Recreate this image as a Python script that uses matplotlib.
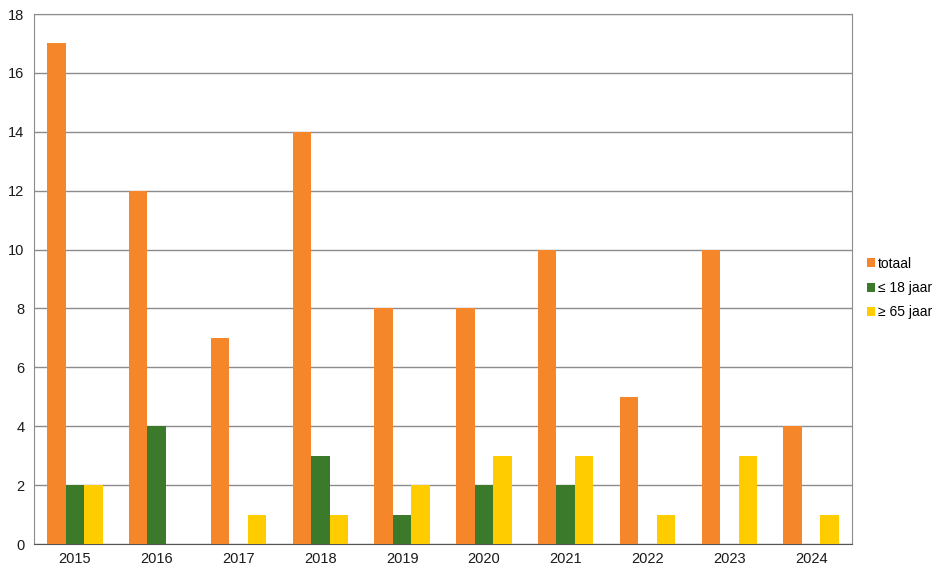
import numpy as np
import matplotlib.pyplot as plt

plt.rcParams['font.family'] = ['Liberation Sans', 'DejaVu Sans']

jaren = ['2015', '2016', '2017', '2018', '2019', '2020', '2021', '2022', '2023', '2024']
totaal = [17, 12, 7, 14, 8, 8, 10, 5, 10, 4]
jong = [2, 4, 0, 3, 1, 2, 2, 0, 0, 0]
oud = [2, 0, 1, 1, 2, 3, 3, 1, 3, 1]

fig = plt.figure(figsize=(9.45, 5.75), dpi=100)
ax = fig.add_axes([34 / 945, 31 / 575, 818 / 945, 530 / 575])

x = np.arange(len(jaren))
w = 0.225
ax.bar(x - w, totaal, w, color='#F5872A', label='totaal', zorder=3)
ax.bar(x, jong, w, color='#3B7A2B', label='\u2264 18 jaar', zorder=3)
ax.bar(x + w, oud, w, color='#FFCC00', label='\u2265 65 jaar', zorder=3)

ax.set_xlim(-0.5, len(jaren) - 0.5)
ax.set_ylim(0, 18)
ax.set_yticks(range(0, 19, 2))
ax.set_xticks(x)
ax.set_xticklabels(jaren)
ax.yaxis.grid(True, color='#8c8c8c', linewidth=1, zorder=0)
ax.tick_params(axis='both', length=0, labelsize=10.5, labelcolor='#1a1a1a')
ax.tick_params(axis='x', pad=6)
ax.tick_params(axis='y', pad=7)
for s in ['top', 'right', 'left']:
    ax.spines[s].set_color('#8c8c8c')
ax.spines['bottom'].set_color('#555555')

fig.legend(loc='center left', bbox_to_anchor=(861 / 945, 1 - 288 / 575), frameon=False,
           fontsize=10, handlelength=0.6, handleheight=0.6, handletextpad=0.2,
           labelspacing=0.75, borderaxespad=0)

fig.savefig('out.png', dpi=100)
